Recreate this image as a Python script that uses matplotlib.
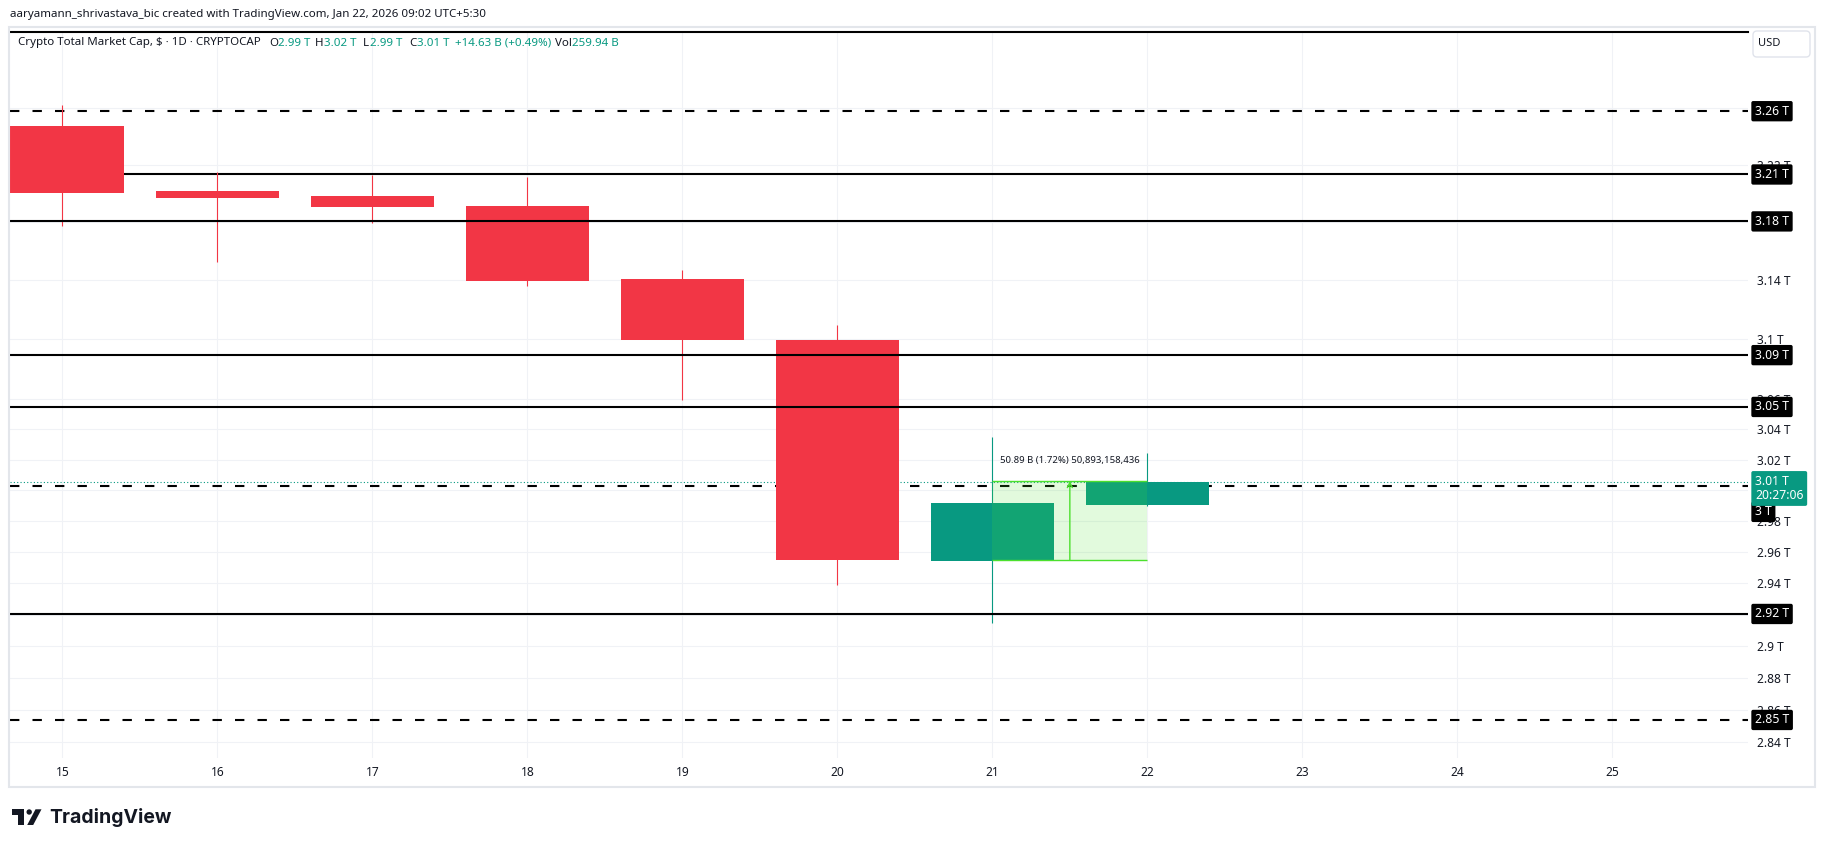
import matplotlib
matplotlib.use("Agg")
import matplotlib.pyplot as plt
import numpy as np
from matplotlib.patches import Rectangle, Polygon, Circle, FancyBboxPatch
from matplotlib.transforms import IdentityTransform
from matplotlib.ticker import NullLocator

plt.rcParams['font.family'] = ['Noto Sans', 'DejaVu Sans']

# --- DATA (values in trillions USD) ---
days = [15, 16, 17, 18, 19, 20, 21, 22]
opens = [3.2471, 3.2016, 3.1981, 3.1912, 3.1410, 3.0996, 2.9544, 2.9904]
highs = [3.2620, 3.2146, 3.2130, 3.2116, 3.1471, 3.1097, 3.0351, 3.0246]
lows = [3.1775, 3.1528, 3.1796, 3.1362, 3.0594, 2.9388, 2.9149, 2.9900]
closes = [3.2002, 3.1970, 3.1907, 3.1398, 3.0996, 2.9549, 2.9917, 3.0055]

solid_levels = [3.2131, 3.1805, 3.0894, 3.0548, 2.9204]
solid_labels = ["3.21 T", "3.18 T", "3.09 T", "3.05 T", "2.92 T"]
dashed_levels = [3.2576, 3.0030, 2.8539]
dashed_labels = ["3.26 T", "3 T", "2.85 T"]

price_ticks = [3.26, 3.22, 3.18, 3.14, 3.10, 3.06, 3.04, 3.02, 3.00,
               2.98, 2.96, 2.94, 2.92, 2.90, 2.88, 2.86, 2.84]
price_tick_labels = ["3.26 T", "3.22 T", "3.18 T", "3.14 T", "3.1 T", "3.06 T",
                     "3.04 T", "3.02 T", "3 T", "2.98 T", "2.96 T", "2.94 T",
                     "2.92 T", "2.9 T", "2.88 T", "2.86 T", "2.84 T"]
day_ticks = list(range(15, 26))

current_price = 3.0055
current_label = "3.01 T\n20:27:06"

measure_x = [21, 22]
measure_low, measure_high = 2.9547, 3.0060
measure_text = "50.89 B (1.72%) 50,893,158,436"

header = "aaryamann_shrivastava_bic created with TradingView.com, Jan 22, 2026 09:02 UTC+5:30"
legend_parts = [("Crypto Total Market Cap, $ · 1D · CRYPTOCAP", None, 17.5),
                ("O", "2.99 T", 269), ("H", "3.02 T", 315), ("L", "2.99 T", 363),
                ("C", "3.01 T", 409), ("", "+14.63 B (+0.49%)", 455),
                ("Vol", "259.94 B", 555)]

# --- STYLE ---
W, H = 1825, 847
RED, TEAL, TXT = "#f23645", "#089981", "#131722"
GRID = "#f0f2f6"
MGREEN = "#4ce02d"

fig = plt.figure(figsize=(W / 100, H / 100), dpi=100)
fig.patch.set_facecolor("white")

pane_l, pane_r, pane_t, pane_b = 10, 1748, 32.5, 758
ax = fig.add_axes([pane_l / W, 1 - pane_b / H, (pane_r - pane_l) / W, (pane_b - pane_t) / H])
ax.set_yscale("log")
ax.set_xlim(14.6626, 25.875)
ax.set_ylim(2.8304, 3.3138)

# grid / ticks
ax.set_yticks(price_ticks)
ax.set_yticklabels(price_tick_labels)
ax.yaxis.set_minor_locator(NullLocator())
ax.yaxis.tick_right()
ax.set_xticks(day_ticks)
ax.set_xticklabels([str(d) for d in day_ticks])
ax.tick_params(axis="y", length=0, pad=6.5, labelsize=8.6, labelcolor=TXT)
ax.tick_params(axis="x", length=0, pad=5.5, labelsize=8.6, labelcolor=TXT)
ax.grid(True, color=GRID, lw=0.8, zorder=0)
ax.set_axisbelow(True)
for s in ["left", "right", "bottom"]:
    ax.spines[s].set_visible(False)
ax.spines["top"].set_color("black")
ax.spines["top"].set_linewidth(1.5)

# horizontal levels (some drawn behind, some over the candles)
solid_on_top = [False, True, True, True, True]
dash = (0, (4.5, 6.3))
for v, top in zip(solid_levels, solid_on_top):
    ax.axhline(v, color="black", lw=1.5, zorder=4 if top else 2)
for v in dashed_levels:
    ax.axhline(v, color="black", lw=1.5, ls=dash, zorder=2)
ax.axhline(current_price, color=TEAL, lw=0.8, ls=(0, (1, 2)), zorder=2.1)

# candles
o = np.array(opens)
c = np.array(closes)
cols = [TEAL if cc >= oo else RED for oo, cc in zip(o, c)]
ax.vlines(days, lows, highs, colors=cols, lw=0.8, zorder=3)
ax.bar(days, np.abs(c - o), bottom=np.minimum(o, c), width=0.7935,
       color=cols, lw=0, zorder=3.1)

# measure tool
ax.fill_between(measure_x, measure_low, measure_high, color=(76 / 255, 224 / 255, 45 / 255),
                alpha=0.16, lw=0, zorder=3.5)
ax.hlines([measure_low, measure_high], measure_x[0], measure_x[1], color=MGREEN, lw=1, zorder=3.6)
mid = (measure_x[0] + measure_x[1]) / 2
ax.annotate("", xy=(mid, measure_high), xytext=(mid, measure_low),
            arrowprops=dict(arrowstyle="->", color=MGREEN, lw=1, shrinkA=0, shrinkB=0,
                            mutation_scale=9), zorder=3.7)
ax.annotate(measure_text, xy=(measure_x[0], measure_high), xytext=(5.5, 14.8),
            textcoords="offset points", fontsize=6.9, color=TXT, va="center", ha="left", zorder=6)

# right-side price labels
lab_x = (1755 - pane_l) / (pane_r - pane_l)
def price_label(v, text, fc, dy=0, bold=True):
    ax.annotate(text, xy=(lab_x, v), xycoords=ax.get_yaxis_transform(),
                xytext=(0, dy), textcoords="offset points",
                ha="left", va="center", fontsize=8.8, color="white",
                fontweight="bold" if bold else "normal", annotation_clip=False,
                linespacing=1.15, zorder=10,
                bbox=dict(boxstyle="round,pad=0.3,rounding_size=0.15", fc=fc, ec="none"))

for v, t in zip(solid_levels, solid_labels):
    price_label(v, t, "black")
for v, t in zip(dashed_levels, dashed_labels):
    price_label(v, t, "black", dy=-18.9 if t == "3 T" else 0)
price_label(current_price, current_label, TEAL, dy=-4.8, bold=False)

# --- figure furniture (pixel coordinates) ---
def fy(y):
    return H - y

idt = IdentityTransform()
fig.patches.append(Rectangle((9, fy(786.5)), 1806, 760, fill=False, ec="#e3e6eb", lw=1.5,
                             transform=idt, zorder=0))
fig.patches.append(FancyBboxPatch((1753, fy(57)), 57, 26, boxstyle="round,pad=0,rounding_size=4",
                                  fc="white", ec="#e0e3eb", lw=1, transform=idt))
fig.text(1758 / W, 1 - 44 / H, "USD", fontsize=8, color=TXT, va="center", ha="left")

fig.text(9.5 / W, 1 - 14 / H, header, fontsize=8.3, color=TXT, va="center", ha="left")

renderer = fig.canvas.get_renderer()
for lab, val, x0 in legend_parts:
    x = x0
    if lab:
        t = fig.text(x / W, 1 - 43 / H, lab, fontsize=8.3, color=TXT, va="center", ha="left")
        x = t.get_window_extent(renderer).x1 + 0.5
    if val:
        fig.text(x / W, 1 - 43 / H, val, fontsize=8.3, color=TEAL, va="center", ha="left")

# TradingView logo
fig.patches.append(Polygon([(12.3, fy(809.3)), (24.3, fy(809.3)), (24.3, fy(825)), (18.3, fy(825)),
                            (18.3, fy(814.8)), (12.3, fy(814.8))], closed=True, fc=TXT, ec="none",
                           transform=idt))
fig.patches.append(Circle((29.2, fy(812)), 2.7, fc=TXT, ec="none", transform=idt))
fig.patches.append(Polygon([(27.2, fy(825)), (33.2, fy(825)), (41.5, fy(809.3)), (35.5, fy(809.3))],
                           closed=True, fc=TXT, ec="none", transform=idt))
fig.text(49 / W, 1 - 817 / H, "TradingView", fontsize=14, fontweight="bold", color=TXT,
         va="center", ha="left", family=["Inter", "DejaVu Sans"])

fig.savefig("out.png", dpi=100)
